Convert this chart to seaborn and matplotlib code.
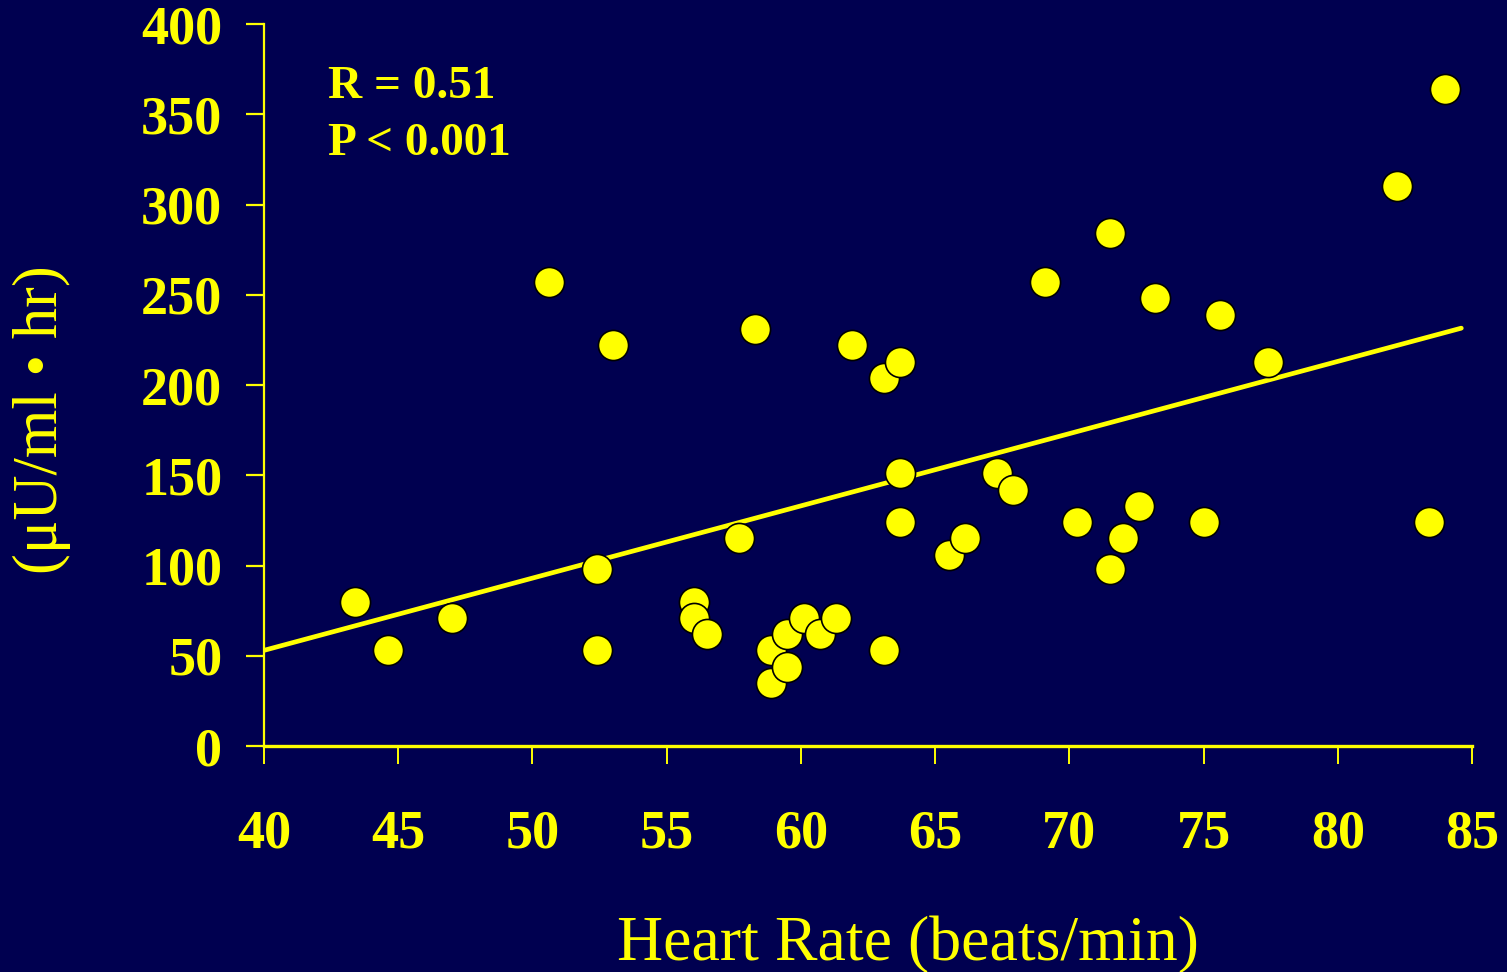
import matplotlib
matplotlib.use("Agg")
import matplotlib.pyplot as plt
import seaborn as sns
import pandas as pd

# ---- data ----
heart_rate = [43.4, 44.6, 47.0, 50.6, 52.4, 52.4, 53.0, 56.0, 56.0, 56.5,
              57.7, 58.3, 58.9, 58.9, 59.5, 59.5, 60.1, 60.7, 61.3, 61.9,
              63.1, 63.1, 63.7, 63.7, 63.7, 65.5, 66.1, 67.3, 67.9, 69.1,
              70.3, 71.5, 71.5, 72.0, 72.6, 73.2, 75.0, 75.6, 77.4, 82.2,
              83.4, 84.0]
insulin = [80, 53, 71, 257, 98, 53, 222, 80, 71, 62,
           115, 231, 53, 35, 62, 44, 71, 62, 71, 222,
           204, 53, 213, 151, 124, 106, 115, 151, 142, 257,
           124, 284, 98, 115, 133, 248, 124, 239, 213, 310,
           124, 364]
fit_x = [40.0, 84.6]
fit_y = [53.0, 231.5]
x_ticks = [40, 45, 50, 55, 60, 65, 70, 75, 80, 85]
y_ticks = [0, 50, 100, 150, 200, 250, 300, 350, 400]
stats_lines = ["R = 0.51", "P < 0.001"]
x_label = "Heart Rate (beats/min)"
y_label = "(\u03bcU/ml \u2022 hr)"

BG = "#000050"
YEL = "#FFFF00"

sns.set_theme(style="white")
plt.rcParams["font.family"] = ["Liberation Serif", "DejaVu Serif"]

fig = plt.figure(figsize=(15.07, 9.72), dpi=100, facecolor=BG)
ax = fig.add_axes([0.1752, 0.2325, 0.9768 - 0.1752, 0.9753 - 0.2325])
ax.set_facecolor(BG)

df = pd.DataFrame({"hr": heart_rate, "ins": insulin})
fit = pd.DataFrame({"x": fit_x, "y": fit_y})

sns.lineplot(data=fit, x="x", y="y", ax=ax, color=YEL, linewidth=3.4, zorder=2)
sns.scatterplot(data=df, x="hr", y="ins", ax=ax, s=470, color=YEL,
                edgecolor="black", linewidth=1.2, zorder=3, clip_on=False)

ax.set_xlim(40, 85)
ax.set_ylim(0, 400)
ax.set_xticks(x_ticks)
ax.set_yticks(y_ticks)

for side in ["top", "right"]:
    ax.spines[side].set_visible(False)
ax.spines["left"].set_color(YEL)
ax.spines["left"].set_linewidth(1.6)
ax.spines["bottom"].set_color(YEL)
ax.spines["bottom"].set_linewidth(2.4)

ax.tick_params(axis="x", direction="out", length=13, width=1.4, color=YEL,
               pad=33, labelsize=39, labelcolor=YEL, bottom=True)
ax.tick_params(axis="y", direction="out", length=13, width=1.6, color=YEL,
               pad=17, labelsize=39, labelcolor=YEL, left=True)
for lab in ax.get_xticklabels() + ax.get_yticklabels():
    lab.set_fontweight("bold")

ax.set_xlabel(x_label, fontsize=46, color=YEL, va="center")
ax.xaxis.set_label_coords(0.533, -0.2756)
ax.set_ylabel(y_label, fontsize=45, color=YEL, va="center")
ax.yaxis.set_label_coords(-0.1838, 0.4515)

ax.text(42.38, 365.0, stats_lines[0], fontsize=34, fontweight="bold",
        color=YEL, ha="left", va="center")
ax.text(42.38, 333.3, stats_lines[1], fontsize=34, fontweight="bold",
        color=YEL, ha="left", va="center")

fig.savefig("out.png", dpi=100, facecolor=BG)
